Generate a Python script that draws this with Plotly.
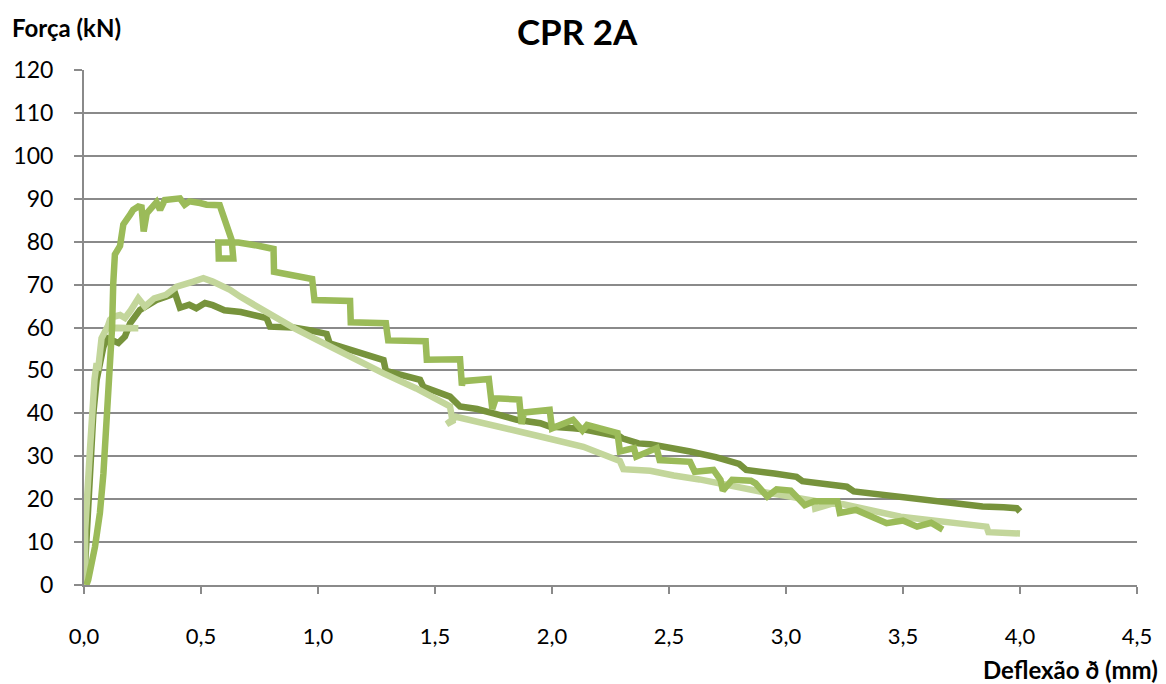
import plotly.graph_objects as go

# Series A (dark green)
x_a = [0, 0.01, 0.025, 0.04, 0.054, 0.068, 0.083, 0.1, 0.125, 0.147, 0.175, 0.197, 0.239, 0.27, 0.31, 0.35, 0.389,
       0.41, 0.45, 0.48, 0.517, 0.55, 0.6, 0.67, 0.752, 0.78, 0.795, 0.894, 0.97, 1.037, 1.05, 1.12, 1.18, 1.28,
       1.29, 1.35, 1.436, 1.45, 1.564, 1.607, 1.68, 1.75, 1.85, 1.95, 1.99, 2.09, 2.134, 2.29, 2.3, 2.37, 2.42,
       2.59, 2.7, 2.8, 2.83, 2.95, 3.045, 3.07, 3.18, 3.26, 3.29, 3.38, 3.46, 3.55, 3.63, 3.73, 3.84, 3.93, 3.986, 4.0]
y_a = [0, 10, 28, 40, 47.8, 51.7, 55.5, 57.5, 57.1, 56.4, 57.9, 61, 64.1, 65.3, 66.4, 67.2, 68,
       64.6, 65.3, 64.5, 65.7, 65.2, 64, 63.6, 62.8, 62.2, 60.2, 60, 59.3, 58.5, 56.3, 55, 54, 52.4,
       49.9, 49, 47.8, 46.2, 43.9, 41.6, 41, 40, 38.5, 37.7, 36.9, 36.5, 36.3, 34.6, 34.2, 33, 32.8,
       31.1, 29.8, 28.2, 26.8, 26, 25.2, 24.2, 23.5, 22.9, 21.8, 21.2, 20.6, 20, 19.4, 18.8, 18.3, 18.1, 17.9, 17.1]

# Series B (medium green)
x_b = [0.01, 0.018, 0.047, 0.068, 0.083, 0.097, 0.111, 0.12, 0.125, 0.132, 0.154, 0.168, 0.197, 0.21, 0.232, 0.246,
       0.255, 0.268, 0.31, 0.325, 0.345, 0.41, 0.43, 0.45, 0.496, 0.524, 0.58, 0.631, 0.638, 0.576, 0.574, 0.66,
       0.75, 0.81, 0.812, 0.9, 0.975, 0.985, 1.137, 1.14, 1.29, 1.3, 1.46, 1.465, 1.607, 1.615, 1.62, 1.73,
       1.745, 1.76, 1.86, 1.87, 1.88, 1.99, 2.0, 2.09, 2.13, 2.15, 2.28, 2.29, 2.35, 2.36, 2.447, 2.46, 2.59,
       2.61, 2.69, 2.72, 2.73, 2.77, 2.85, 2.87, 2.92, 2.96, 3.02, 3.08, 3.12, 3.22, 3.23, 3.3, 3.36, 3.43,
       3.5, 3.56, 3.62, 3.67]
y_b = [0, 1.2, 8.9, 16.8, 26, 40, 47.8, 60, 70.3, 77, 79, 84, 86.3, 87.4, 88.2, 88,
       82.4, 86.6, 89.2, 87.4, 89.7, 90.1, 88.6, 89.4, 89, 88.6, 88.5, 80.4, 76.1, 76.1, 79.8, 79.8,
       79, 78.3, 73, 72.2, 71.3, 66.4, 66.2, 61.2, 61, 57, 56.8, 52.5, 52.6, 46.5, 47.5, 48,
       41, 43.5, 43.2, 37.5, 40.2, 40.8, 36.5, 38.5, 36, 37.3, 35.4, 31.1, 31.9, 29.9, 31.9, 29.1, 28.7,
       26.4, 26.8, 24.5, 22, 24.5, 24.3, 23.7, 20.6, 22.3, 22, 18.6, 19.5, 19.5, 16.8, 17.5, 15.9, 14.4,
       15, 13.6, 14.5, 12.9]

# Series C (light green)
x_c = [0.004, 0.005, 0.026, 0.04, 0.045, 0.054, 0.06, 0.075, 0.097, 0.232, 0.1, 0.111, 0.125, 0.154, 0.175, 0.2,
       0.232, 0.26, 0.3, 0.35, 0.396, 0.467, 0.51, 0.55, 0.624, 0.667, 0.75, 0.84, 0.9, 1.0, 1.137, 1.28, 1.42,
       1.564, 1.575, 1.55, 1.59, 1.85, 1.95, 2.134, 2.29, 2.305, 2.42, 2.52, 2.63, 2.89, 3.12, 3.125, 3.2, 3.245,
       3.49, 3.857, 3.865, 4.0]
y_c = [0, 12.8, 32, 46.5, 48, 51.7, 50, 57.5, 59.8, 59.8, 60, 61.8, 62.5, 62.9, 62.2, 64,
       66.8, 64.9, 66.8, 67.6, 69.5, 70.7, 71.5, 70.7, 68.8, 67.2, 64.5, 62, 59.8, 57, 53.2, 49.3, 45.8,
       41.6, 38.2, 37.5, 39.2, 36.1, 34.6, 32.2, 28.9, 27.0, 26.6, 25.5, 24.6, 21.8, 19.6, 17.8, 19, 18.8,
       15.9, 13.6, 12.3, 12.0]

x_ticks = [0, 0.5, 1.0, 1.5, 2.0, 2.5, 3.0, 3.5, 4.0, 4.5]
y_ticks = list(range(0, 121, 10))

FONT = "Lato"
GRID = "#8a8a8a"

fig = go.Figure()
fig.add_trace(go.Scatter(x=x_a, y=y_a, mode="lines", name="A",
                         line=dict(color="#77933C", width=6.5)))
fig.add_trace(go.Scatter(x=x_c, y=y_c, mode="lines", name="C",
                         line=dict(color="#C3D69B", width=6.5)))
fig.add_trace(go.Scatter(x=x_b, y=y_b, mode="lines", name="B",
                         line=dict(color="#9BBB59", width=6.5)))

fig.update_layout(
    width=1166, height=684,
    margin=dict(l=84, r=29, t=70, b=99),
    paper_bgcolor="white", plot_bgcolor="white",
    showlegend=False,
    separators=", ",
    font=dict(family=FONT, color="#000000", size=22),
    title=dict(text="<b>CPR 2A</b>", x=0.495, xref="container", xanchor="center",
               y=0.952, yref="container", yanchor="middle",
               font=dict(family=FONT, size=35, color="#000000")),
    xaxis=dict(range=[0, 4.5], tickvals=x_ticks, tickformat=".1f",
               showgrid=False, showline=True, linecolor=GRID, linewidth=2,
               ticks="outside", ticklen=7, tickwidth=2, tickcolor=GRID,
               ticklabelstandoff=24, zeroline=False,
               tickfont=dict(family=FONT, size=22, color="#000000")),
    yaxis=dict(range=[0, 120], tickvals=y_ticks,
               showgrid=True, gridcolor=GRID, gridwidth=2,
               showline=True, linecolor=GRID, linewidth=2,
               ticks="outside", ticklen=8, tickwidth=2, tickcolor=GRID,
               ticklabelstandoff=16, zeroline=False,
               tickfont=dict(family=FONT, size=23, color="#000000")),
    annotations=[
        dict(text="<b>Força (kN)</b>", xref="paper", yref="paper",
             x=-0.0703, y=1.0816, xanchor="left", yanchor="middle", showarrow=False,
             font=dict(family=FONT, size=24, color="#000000")),
        dict(text="<b>Deflexão ð (mm)</b>", xref="paper", yref="paper",
             x=1.0218, y=-0.165, xanchor="right", yanchor="middle", showarrow=False,
             font=dict(family=FONT, size=24, color="#000000")),
    ],
)

fig.write_html("out.html", config={"displayModeBar": False},
               post_script="document.body.style.margin='0';document.body.style.padding='0';")
